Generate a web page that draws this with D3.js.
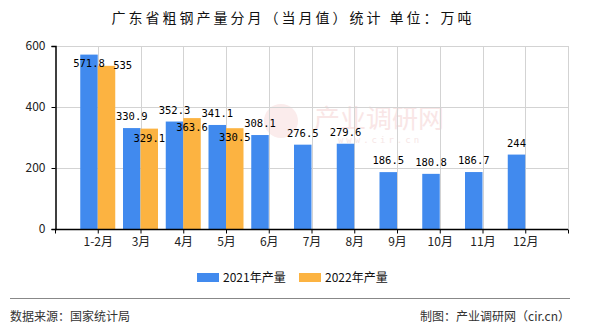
<!DOCTYPE html>
<html><head><meta charset="utf-8">
<script src="https://cdn.jsdelivr.net/npm/d3@7"></script>
<style>
html,body{margin:0;padding:0;background:#fff;}
svg{display:block;}
</style></head>
<body>
<svg id="chart" width="590" height="330"></svg>
<script>
const categories = ["1-2月","3月","4月","5月","6月","7月","8月","9月","10月","11月","12月"];
const series2021 = [571.8,330.9,352.3,341.1,308.1,276.5,279.6,186.5,180.8,186.7,244];
const series2022 = [535,329.1,363.6,330.5,null,null,null,null,null,null,null];
const seriesNames = ["2021年产量","2022年产量"];
const yTicks = [0,200,400,600];
const titleText = "广东省粗钢产量分月（当月值）统计 单位：万吨";
const sourceText = "数据来源：国家统计局";
const creditText = "制图：产业调研网（cir.cn）";

(function(){
const colors = ["#418AEE","#FCB341"];
const svg = d3.select("#chart");
const pL = 55, pR = 568, pT = 46, pB = 229;
const labelFont = "'DejaVu Sans Mono', monospace";
const cjkFont = "'Noto Sans CJK SC', sans-serif";

// watermark
svg.append("circle").attr("cx",281).attr("cy",121).attr("r",17).attr("fill","#fbecec");
svg.append("text").attr("x",379).attr("y",128).attr("text-anchor","middle")
  .attr("font-family",cjkFont).attr("font-size",26).attr("fill","#f9e6e6")
  .text("产业调研网");
svg.append("text").attr("x",380).attr("y",143).attr("text-anchor","middle")
  .attr("font-family",labelFont).attr("font-size",9).attr("letter-spacing","3px").attr("fill","#f6e6e6")
  .text("www.cir.cn");

const x = d3.scalePoint().domain(categories).range([pL,pR]).padding(1);
const y = d3.scaleLinear().domain([0,600]).range([pB,pT]);
const bw = 17.5;

// gridlines
const grid = svg.append("g").attr("stroke","#d3d3d3").attr("stroke-width",1);
yTicks.filter(t=>t>0).forEach(t=>{
  grid.append("line").attr("x1",pL).attr("x2",pR).attr("y1",Math.round(y(t))+0.5).attr("y2",Math.round(y(t))+0.5);
});
categories.forEach(c=>{
  grid.append("line").attr("x1",Math.round(x(c))+0.5).attr("x2",Math.round(x(c))+0.5).attr("y1",pT).attr("y2",pB);
});
grid.append("line").attr("x1",pR+0.5).attr("x2",pR+0.5).attr("y1",pT).attr("y2",pB);

// bars
const bars = svg.append("g");
categories.forEach((c,i)=>{
  const cx = x(c);
  if(series2021[i]!=null){
    bars.append("rect").attr("x",cx-bw).attr("width",bw).attr("y",y(series2021[i])).attr("height",y(0)-y(series2021[i])).attr("fill",colors[0]);
  }
  if(series2022[i]!=null){
    bars.append("rect").attr("x",cx).attr("width",bw).attr("y",y(series2022[i])).attr("height",y(0)-y(series2022[i])).attr("fill",colors[1]);
  }
});

// axes
const yAxis = d3.axisLeft(y).tickValues(yTicks).tickSize(4).tickPadding(6);
const ga = svg.append("g").attr("transform",`translate(${pL+0.5},0)`).call(yAxis);
const xAxis = d3.axisBottom(x).tickSize(4).tickPadding(4);
const gx = svg.append("g").attr("transform",`translate(0,${pB+0.5})`).call(xAxis);
[ga,gx].forEach(g=>{
  g.select(".domain").attr("stroke","#000").attr("stroke-width",1.5);
  g.selectAll(".tick line").attr("stroke","#000");
  g.selectAll("text").attr("font-family",cjkFont).attr("font-size",12).attr("fill","#222");
});
gx.select(".domain").attr("d",`M${pL},0H${pR}`);
[pL,pR].forEach(px=>{
  gx.append("line").attr("x1",px+0.5).attr("x2",px+0.5).attr("y1",0).attr("y2",4).attr("stroke","#000");
});

// labels
const fmt = v => String(v);
const lab = svg.append("g").attr("font-family",labelFont).attr("font-size",10.5).attr("fill","#000").attr("text-anchor","middle");
const charW = 6.3;
categories.forEach((c,i)=>{
  const cx = x(c);
  let blueBox = null;
  if(series2021[i]!=null){
    const v = series2021[i], t = fmt(v), yt = y(v);
    let by = yt - 8;
    if(by - 9 < pT) by = yt + 12;
    const bx = cx - bw/2;
    lab.append("text").attr("x",bx).attr("y",by).text(t);
    blueBox = {x0:bx - t.length*charW/2, x1:bx + t.length*charW/2, y0:by-9, y1:by};
  }
  if(series2022[i]!=null){
    const v = series2022[i], t = fmt(v), yt = y(v);
    let ox = cx + bw/2, oy = yt + 13;
    const w = t.length*charW;
    if(blueBox && !(ox - w/2 > blueBox.x1 + 2 || oy - 9 > blueBox.y1 + 4)){
      ox = cx + bw - 2 + w/2;
      oy = blueBox.y1 + 2;
    }
    lab.append("text").attr("x",ox).attr("y",oy).text(t);
  }
});

// title
svg.append("text").attr("x",293).attr("y",23).attr("text-anchor","middle")
  .attr("font-family",cjkFont).attr("font-size",14).attr("letter-spacing","3px").attr("fill","#111")
  .text(titleText);

// legend
const lg = svg.append("g");
const legendX = [197,299];
seriesNames.forEach((n,i)=>{
  lg.append("rect").attr("x",legendX[i]).attr("y",273).attr("width",22).attr("height",9).attr("fill",colors[i]);
  lg.append("text").attr("x",legendX[i]+26).attr("y",282).attr("font-family",cjkFont).attr("font-size",12).attr("fill","#111").text(n);
});

// footer
svg.append("line").attr("x1",10).attr("x2",570).attr("y1",298.5).attr("y2",298.5).attr("stroke","#888").attr("stroke-width",1);
svg.append("text").attr("x",10).attr("y",321).attr("font-family",cjkFont).attr("font-size",12).attr("fill","#333").text(sourceText);
svg.append("text").attr("x",570).attr("y",321).attr("text-anchor","end").attr("font-family",cjkFont).attr("font-size",12).attr("fill","#333").text(creditText);
})();
</script>
</body></html>
